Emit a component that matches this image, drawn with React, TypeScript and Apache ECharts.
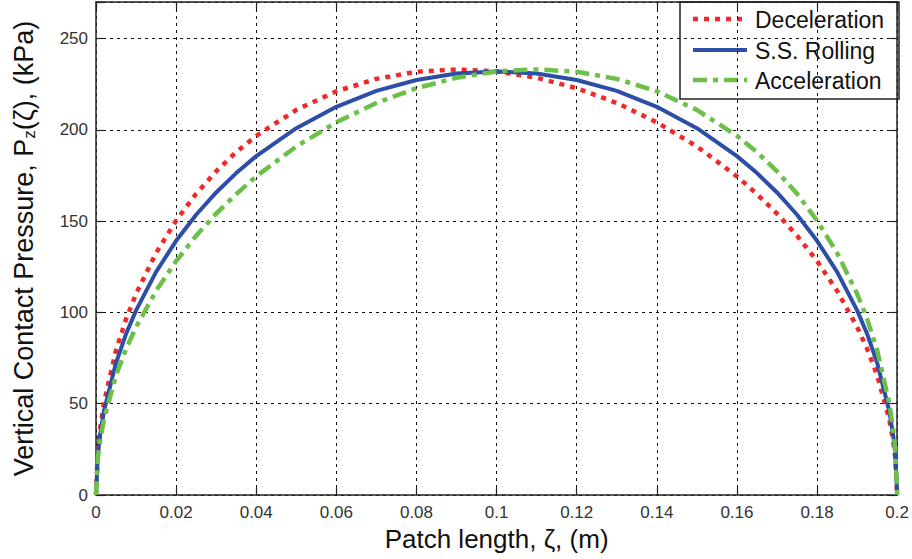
import React, { useEffect, useRef } from "react";
import * as echarts from "echarts";

// Patch length positions (m)
const patchX = [
  0, 0.0005, 0.001, 0.002, 0.005, 0.0075, 0.01, 0.015, 0.02, 0.025, 0.03, 0.035,
  0.04, 0.05, 0.06, 0.07, 0.08, 0.09, 0.1, 0.11, 0.12, 0.13, 0.14, 0.15, 0.16,
  0.165, 0.17, 0.175, 0.18, 0.185, 0.19, 0.1925, 0.195, 0.198, 0.199, 0.1995, 0.2,
];

// Vertical contact pressure (kPa)
const deceleration = [
  0, 25.5, 35.9, 50.7, 79.3, 96.3, 110.2, 132.6, 150.3, 165.0, 177.3, 187.8,
  196.7, 210.9, 221.1, 227.9, 231.8, 233.1, 232, 228.5, 222.8, 214.7, 204.1, 190.9, 174.5,
  164.8, 154.1, 142.0, 128.1, 111.8, 92.0, 80.0, 65.5, 41.7, 29.5, 20.9, 0,
];
const ssRolling = [
  0, 23.2, 32.7, 46.2, 72.4, 88.2, 101.1, 122.2, 139.2, 153.5, 165.7, 176.3,
  185.6, 200.9, 212.6, 221.3, 227.3, 230.8, 232, 230.8, 227.3, 221.3, 212.6, 200.9, 185.6,
  176.3, 165.7, 153.5, 139.2, 122.2, 101.1, 88.2, 72.4, 46.2, 32.7, 23.2, 0,
];
const acceleration = [
  0, 20.9, 29.5, 41.7, 65.5, 80.0, 92.0, 111.8, 128.1, 142.0, 154.1, 164.8,
  174.5, 190.9, 204.1, 214.7, 222.8, 228.5, 232, 233.1, 231.8, 227.9, 221.1, 210.9, 196.7,
  187.8, 177.3, 165.0, 150.3, 132.6, 110.2, 96.3, 79.3, 50.7, 35.9, 25.5, 0,
];

const seriesNames = ["Deceleration", "S.S. Rolling", "Acceleration"];
const seriesColors = ["#f02828", "#2c4ea6", "#6cc048"];
const seriesDashes: (number[] | null)[] = [[5, 6], null, [14, 6, 5, 6]];
const seriesWidths = [4.5, 4, 4.5];

const FONT = "'Liberation Sans', Arial, sans-serif";

export default function App() {
  const ref = useRef<HTMLDivElement>(null);

  useEffect(() => {
    if (!ref.current) return;
    const chart = echarts.init(ref.current, null, { renderer: "svg" });
    const pairs = (ys: number[]) => patchX.map((x, i) => [x, ys[i]]);
    const allValues = [deceleration, ssRolling, acceleration];

    const axisLineStyle = { color: "#222", width: 1.5 };
    const tickStyle = { show: true, inside: true, length: 7, lineStyle: { color: "#222", width: 1.2 } };

    // legend drawn as graphic (box + samples + labels)
    const legendX = 680, legendY = 2, legendW = 219, legendH = 97;
    const rowYs = [19, 50, 80];
    const legendChildren: any[] = [
      {
        type: "rect",
        shape: { x: legendX, y: legendY, width: legendW, height: legendH },
        style: { fill: "#fff", stroke: "#222", lineWidth: 1.5 },
      },
    ];
    seriesNames.forEach((name, i) => {
      legendChildren.push({
        type: "line",
        shape: { x1: 693, y1: rowYs[i], x2: 747, y2: rowYs[i] },
        style: {
          stroke: seriesColors[i],
          lineWidth: seriesWidths[i],
          lineDash: seriesDashes[i] || null,
        },
      });
      legendChildren.push({
        type: "text",
        style: {
          text: name,
          x: 755,
          y: rowYs[i] + 1,
          verticalAlign: "middle",
          fontFamily: FONT,
          fontSize: 23,
          fill: "#111",
        },
      });
    });

    chart.setOption({
      animation: false,
      backgroundColor: "#fff",
      grid: { left: 96, right: 14, top: 2, bottom: 64, show: false },
      graphic: [{ type: "group", z: 100, children: legendChildren }],
      xAxis: [
        {
          type: "value",
          min: 0,
          max: 0.2,
          interval: 0.02,
          position: "bottom",
          name: "Patch length, ζ, (m)",
          nameLocation: "middle",
          nameGap: 26,
          nameTextStyle: { fontFamily: FONT, fontSize: 26, color: "#111" },
          axisLine: { show: true, onZero: false, lineStyle: axisLineStyle },
          axisTick: tickStyle,
          axisLabel: {
            fontFamily: FONT,
            fontSize: 17,
            color: "#333",
            margin: 9,
            formatter: (v: number) => String(+v.toFixed(2)),
          },
          splitLine: { show: true, lineStyle: { color: "#111", type: [3, 4], width: 1 } },
        },
        {
          type: "value",
          min: 0,
          max: 0.2,
          interval: 0.02,
          position: "top",
          axisLine: { show: true, onZero: false, lineStyle: axisLineStyle },
          axisTick: tickStyle,
          axisLabel: { show: false },
          splitLine: { show: false },
        },
      ],
      yAxis: [
        {
          type: "value",
          min: 0,
          max: 270,
          interval: 50,
          position: "left",
          name: "Vertical Contact Pressure, P{sub|z}(ζ), (kPa)",
          nameLocation: "middle",
          nameGap: 58,
          nameRotate: 90,
          nameTextStyle: {
            fontFamily: FONT,
            fontSize: 27,
            color: "#111",
            rich: {
              sub: { fontFamily: FONT, fontSize: 17, color: "#111", verticalAlign: "bottom", padding: [12, 0, 0, 0] },
            },
          },
          axisLine: { show: true, onZero: false, lineStyle: axisLineStyle },
          axisTick: tickStyle,
          axisLabel: {
            fontFamily: FONT,
            fontSize: 17,
            color: "#333",
            margin: 8,
            formatter: (v: number) => (v > 260 ? "" : String(v)),
          },
          splitLine: { show: true, lineStyle: { color: "#111", type: [3, 4], width: 1 } },
        },
        {
          type: "value",
          min: 0,
          max: 270,
          interval: 50,
          position: "right",
          axisLine: { show: true, onZero: false, lineStyle: axisLineStyle },
          axisTick: tickStyle,
          axisLabel: { show: false },
          splitLine: { show: false },
        },
      ],
      series: seriesNames.map((name, i) => ({
        name,
        type: "line",
        symbol: "none",
        data: pairs(allValues[i]),
        lineStyle: {
          color: seriesColors[i],
          width: seriesWidths[i],
          type: seriesDashes[i] || "solid",
        },
        itemStyle: { color: seriesColors[i] },
        z: 3 + i,
      })),
    });
    return () => chart.dispose();
  }, []);

  return (
    <div
      ref={ref}
      style={{ position: "absolute", left: 0, top: 0, width: 912, height: 559 }}
    />
  );
}
